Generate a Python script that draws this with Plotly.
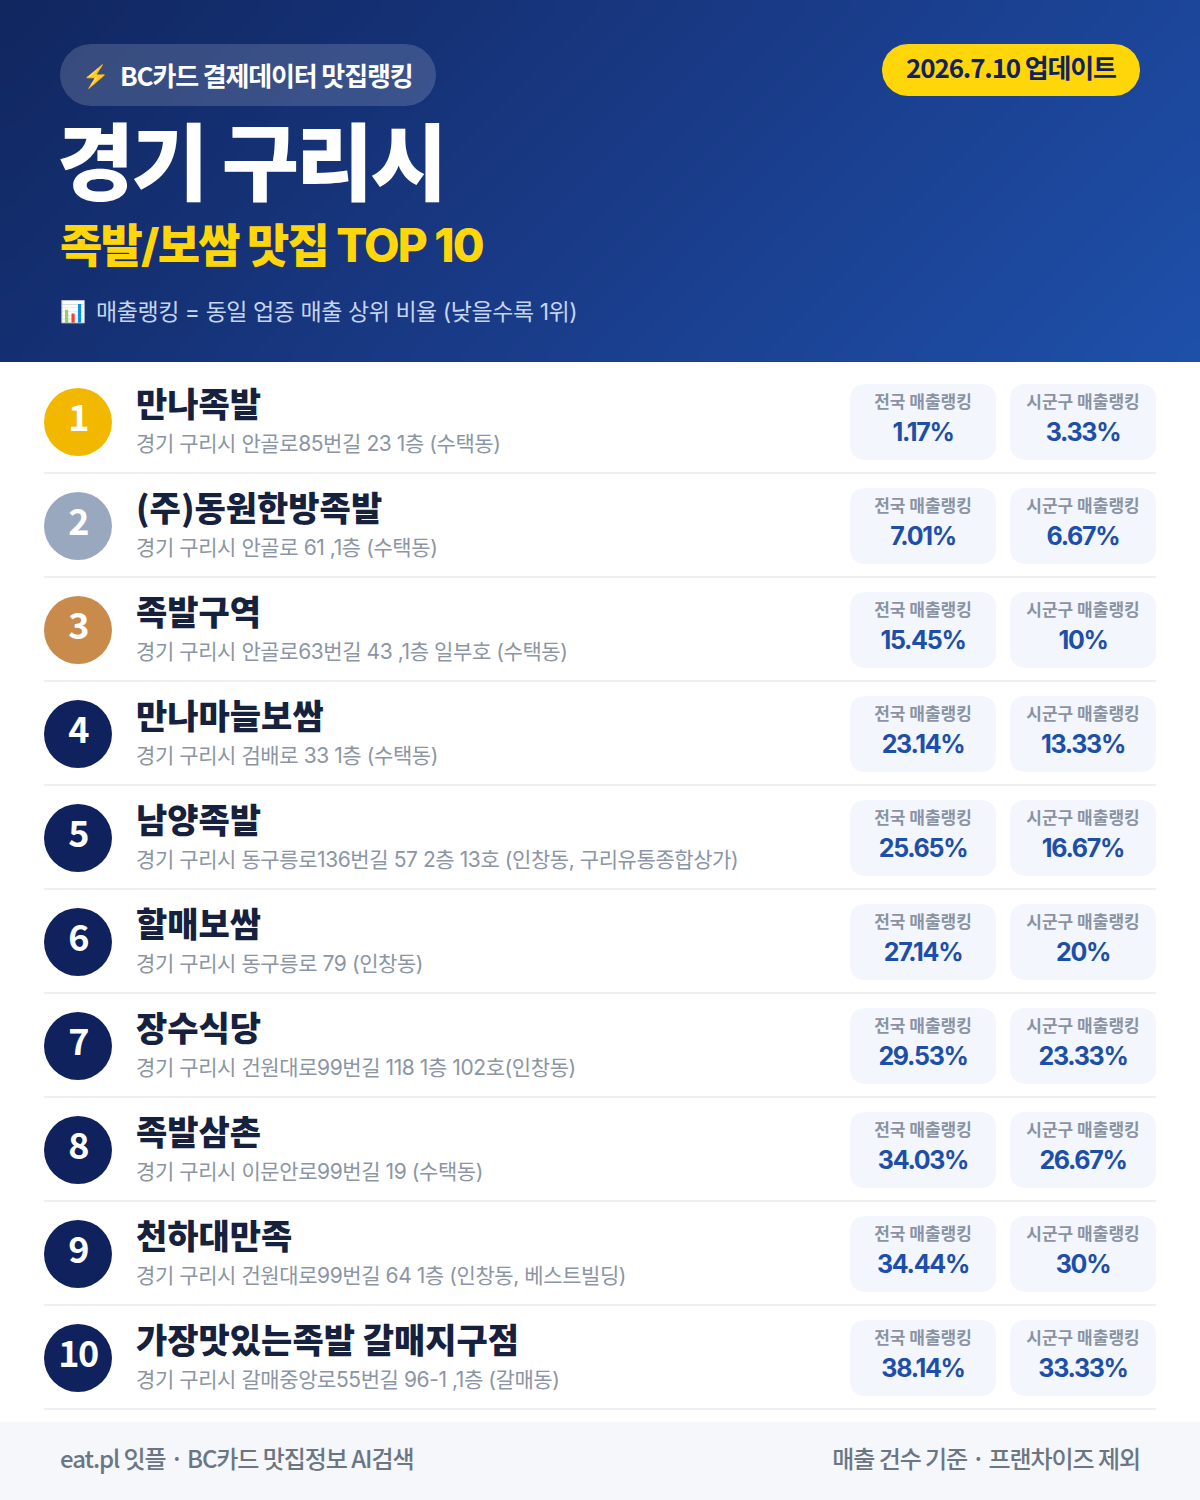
import json
import numpy as np
import plotly.graph_objects as go

# data
names = ["만나족발", "(주)동원한방족발", "족발구역", "만나마늘보쌈", "남양족발",
         "할매보쌈", "장수식당", "족발삼촌", "천하대만족", "가장맛있는족발 갈매지구점"]
addresses = ["경기 구리시 안골로85번길 23 1층 (수택동)",
             "경기 구리시 안골로 61 ,1층 (수택동)",
             "경기 구리시 안골로63번길 43 ,1층 일부호 (수택동)",
             "경기 구리시 검배로 33 1층 (수택동)",
             "경기 구리시 동구릉로136번길 57 2층 13호 (인창동, 구리유통종합상가)",
             "경기 구리시 동구릉로 79 (인창동)",
             "경기 구리시 건원대로99번길 118 1층 102호(인창동)",
             "경기 구리시 이문안로99번길 19 (수택동)",
             "경기 구리시 건원대로99번길 64 1층 (인창동, 베스트빌딩)",
             "경기 구리시 갈매중앙로55번길 96-1 ,1층 (갈매동)"]
national_rank = ["1.17%", "7.01%", "15.45%", "23.14%", "25.65%",
                 "27.14%", "29.53%", "34.03%", "34.44%", "38.14%"]
local_rank = ["3.33%", "6.67%", "10%", "13.33%", "16.67%",
              "20%", "23.33%", "26.67%", "30%", "33.33%"]
ranks = [str(i) for i in range(1, 11)]
badge_colors = ["#f2b800", "#9aa8bf", "#c98b4b"] + ["#10225e"] * 7

FONT = "Noto Sans CJK KR"
LATIN = "Inter, Noto Sans CJK KR"
ROW_H = 104
row_y = np.arange(len(names)) * ROW_H
# letter spacing in px per font size, plotly has no option for it
spacing = {84: -3, 46: -1.8, 26: -1.15, 23: -0.45, 21: -0.42, 25: -1.3, 24: -1.06, 36: -1.5}


def round_rect(x0, y0, x1, y1, r, color):
    path = (f"M{x0+r},{y0} L{x1-r},{y0} Q{x1},{y0} {x1},{y0+r} L{x1},{y1-r} Q{x1},{y1} {x1-r},{y1} "
            f"L{x0+r},{y1} Q{x0},{y1} {x0},{y1-r} L{x0},{y0+r} Q{x0},{y0} {x0+r},{y0} Z")
    return dict(type="path", path=path, fillcolor=color, line_width=0, layer="below")


def pill(x0, y0, x1, y1, color):
    # drawn as a trace so it sits above the header gradient and below the text
    r = (y1 - y0) / 2
    t = np.linspace(-np.pi / 2, np.pi / 2, 40)
    xs = np.concatenate([x1 - r + r * np.cos(t), x0 + r - r * np.cos(t)])
    ys = np.concatenate([y0 + r + r * np.sin(t), y1 - r - r * np.sin(t)])
    return go.Scatter(x=xs, y=ys, mode="lines", fill="toself", fillcolor=color, line_width=0, hoverinfo="skip")


def text_trace(x, y, text, size, color, pos="middle right", weight=400, family=FONT):
    return go.Scatter(x=x, y=y, text=text, mode="text", textposition=pos, hoverinfo="skip",
                      textfont=dict(family=family, size=size, color=color, weight=weight))


fig = go.Figure()

# header gradient
gx = (np.arange(60) + 0.5) * 20
gy = (np.arange(18) + 0.5) * 362 / 18
gz = (gx[None, :] + gy[:, None]) / (1200 + 362)
fig.add_trace(go.Heatmap(x=gx, y=gy, z=gz, zmin=0, zmax=1, zsmooth="best", showscale=False, hoverinfo="skip",
                         colorscale=[[0, "#10265f"], [0.5, "#193a86"], [1, "#1e50aa"]]))
fig.add_trace(pill(60, 44, 436, 106, "rgba(255,255,255,0.16)"))
fig.add_trace(pill(882, 44, 1140, 96, "#ffd60a"))

shapes = [dict(type="rect", x0=0, x1=1200, y0=1422, y1=1500, fillcolor="#f5f7fa", line_width=0, layer="below")]
for dy in row_y:
    shapes.append(round_rect(850, 384 + dy, 996, 460 + dy, 16, "#f3f6fd"))
    shapes.append(round_rect(1010, 384 + dy, 1156, 460 + dy, 16, "#f3f6fd"))
    shapes.append(dict(type="rect", x0=44, x1=1156, y0=472 + dy, y1=474 + dy,
                       fillcolor="#eef0f3", line_width=0, layer="below"))

# header text
fig.add_trace(text_trace([82], [78], ["⚡"], 22, "#ffd60a"))
fig.add_trace(text_trace([120], [79], ["BC카드 결제데이터 맛집랭킹"], 26, "#ffffff", weight=700))
fig.add_trace(text_trace([1011], [71], ["2026.7.10 업데이트"], 26, "#10225e", "middle center", 700))
fig.add_trace(text_trace([57], [173], ["경기 구리시"], 84, "#ffffff", weight=900))
fig.add_trace(text_trace([60], [250], ["족발/보쌈 맛집 TOP 10"], 46, "#ffd60a", weight=800, family=LATIN))
fig.add_trace(text_trace([60], [314], ["📊"], 21, "#c5d5f0"))
fig.add_trace(text_trace([96], [314], ["매출랭킹 = 동일 업종 매출 상위 비율 (낮을수록 1위)"], 23, "#c5d5f0", family=LATIN))

# rows
fig.add_trace(go.Scatter(x=[78] * len(ranks), y=422 + row_y, mode="markers", hoverinfo="skip",
                         marker=dict(size=68, color=badge_colors, line_width=0)))
fig.add_trace(text_trace([78] * len(ranks), 422 + row_y, ranks, 36, "#ffffff", "middle center", 700))
fig.add_trace(text_trace([136] * len(names), 408 + row_y, names, 34, "#16213e", weight=900))
fig.add_trace(text_trace([136] * len(names), 446 + row_y, addresses, 21, "#8b95a5", family=LATIN))
for cx, label, vals in [(923, "전국 매출랭킹", national_rank), (1083, "시군구 매출랭킹", local_rank)]:
    fig.add_trace(text_trace([cx] * len(names), 404 + row_y, [label] * len(names), 17, "#8b93a3",
                             "middle center", 700))
    fig.add_trace(text_trace([cx] * len(names), 435 + row_y, vals, 25, "#1e4fa8", "middle center", 700, LATIN))

# footer
fig.add_trace(text_trace([60], [1462], ["eat.pl 잇플 · BC카드 맛집정보 AI검색"], 24, "#6b7685", weight=500))
fig.add_trace(text_trace([1140], [1462], ["매출 건수 기준 · 프랜차이즈 제외"], 24, "#6b7685", "middle left", 500))

fig.update_layout(width=1200, height=1500, margin=dict(l=0, r=0, t=0, b=0), showlegend=False,
                  paper_bgcolor="#ffffff", plot_bgcolor="#ffffff", shapes=shapes,
                  xaxis=dict(range=[0, 1200], visible=False, fixedrange=True),
                  yaxis=dict(range=[1500, 0], visible=False, fixedrange=True))

post = """document.body.style.margin='0';
var sp = %s;
document.querySelectorAll('svg text').forEach(function(t){
  var s = sp[parseFloat(t.style.fontSize)];
  if (s) t.style.letterSpacing = s + 'px';
});""" % json.dumps(spacing)
fig.write_html("out.html", config=dict(displayModeBar=False), post_script=post)
